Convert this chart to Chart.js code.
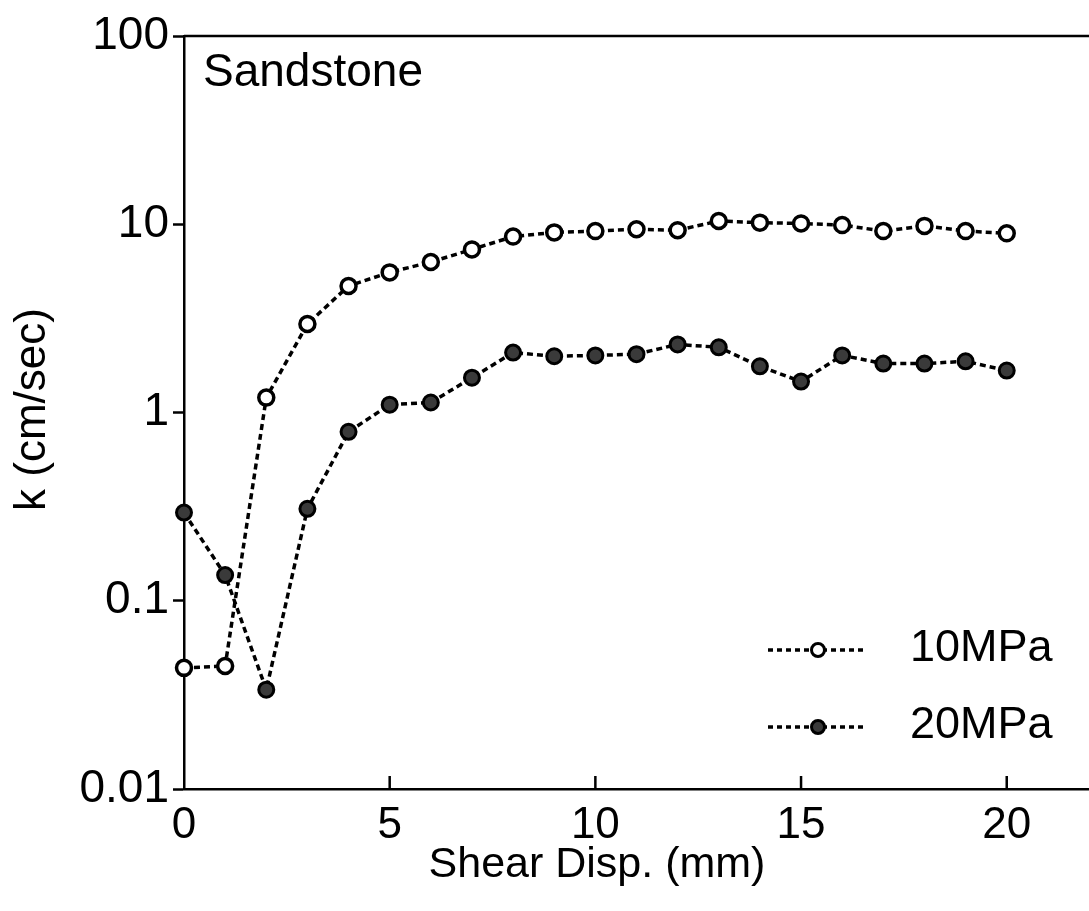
<!DOCTYPE html>
<html>
<head>
<meta charset="utf-8">
<title>Sandstone permeability vs shear displacement</title>
<script src="https://cdn.jsdelivr.net/npm/chart.js@4.4.1/dist/chart.umd.min.js"></script>
<style>
  html, body { margin: 0; padding: 0; background: #ffffff; }
  #wrap { width: 1089px; height: 911px; }
  canvas { display: block; }
</style>
</head>
<body>
<div id="wrap"><canvas id="chart" width="1089" height="911"></canvas></div>
<script>
// Shear displacement (mm)
const shearDisp = [0, 1, 2, 3, 4, 5, 6, 7, 8, 9, 10, 11, 12, 13, 14, 15, 16, 17, 18, 19, 20];

// Permeability k (cm/sec) at 10 MPa normal stress
const k10MPa = [0.044, 0.045, 1.2, 2.95, 4.7, 5.55, 6.3, 7.35, 8.6, 9.05, 9.2, 9.4, 9.3, 10.4, 10.2, 10.1, 9.9, 9.2, 9.8, 9.2, 8.95];

// Permeability k (cm/sec) at 20 MPa normal stress
const k20MPa = [0.294, 0.137, 0.0337, 0.308, 0.79, 1.1, 1.13, 1.53, 2.08, 1.99, 2.01, 2.04, 2.3, 2.22, 1.76, 1.46, 2.01, 1.82, 1.82, 1.87, 1.67];

// Axis ticks
const xTickValues = [0, 5, 10, 15, 20];
const yTickValues = [0.01, 0.1, 1, 10, 100];
const yTickLabels = ['0.01', '0.1', '1', '10', '100'];

const seriesNames = ['10MPa', '20MPa'];

const FONT = '"Liberation Sans", Arial, Helvetica, sans-serif';
const INK = '#000000';
const FILL_DARK = '#3a3a3a';

function toPoints(xs, ys) {
  return xs.map((x, i) => ({ x: x, y: ys[i] }));
}

// Frame, inward x ticks, axis titles, panel label and legend
const decorations = {
  id: 'decorations',
  afterDraw(chart) {
    const ctx = chart.ctx;
    const area = chart.chartArea;
    const xs = chart.scales.x;
    ctx.save();

    // top frame line
    ctx.strokeStyle = INK;
    ctx.lineWidth = 2.5;
    ctx.beginPath();
    ctx.moveTo(area.left, area.top);
    ctx.lineTo(area.right, area.top);
    ctx.stroke();

    // inward tick marks on the x axis
    ctx.lineWidth = 2.5;
    xTickValues.forEach(v => {
      if (v === xs.min) return;
      const px = xs.getPixelForValue(v);
      ctx.beginPath();
      ctx.moveTo(px, area.bottom);
      ctx.lineTo(px, area.bottom - 13);
      ctx.stroke();
    });

    // axis titles
    ctx.fillStyle = INK;
    ctx.font = '43px ' + FONT;
    ctx.textAlign = 'center';
    ctx.textBaseline = 'alphabetic';
    ctx.fillText('Shear Disp. (mm)', 597, 877);

    ctx.save();
    ctx.translate(45, (area.top + area.bottom) / 2 - 3);
    ctx.rotate(-Math.PI / 2);
    ctx.font = '44px ' + FONT;
    ctx.textAlign = 'center';
    ctx.textBaseline = 'alphabetic';
    ctx.fillText('k (cm/sec)', 0, 0);
    ctx.restore();

    // panel label
    ctx.font = '46px ' + FONT;
    ctx.textAlign = 'left';
    ctx.textBaseline = 'alphabetic';
    ctx.fillText('Sandstone', area.left + 19, area.top + 50);

    // legend
    const rows = [650, 727];
    chart.data.datasets.forEach((ds, i) => {
      const y = rows[i];
      const x0 = 768, x1 = 867, xm = 818;
      ctx.strokeStyle = INK;
      ctx.lineWidth = 3.5;
      ctx.setLineDash([5, 4]);
      ctx.beginPath();
      ctx.moveTo(x0, y);
      ctx.lineTo(x1, y);
      ctx.stroke();
      ctx.setLineDash([]);
      ctx.beginPath();
      ctx.arc(xm, y, 6.5, 0, Math.PI * 2);
      ctx.fillStyle = ds.pointBackgroundColor;
      ctx.fill();
      ctx.lineWidth = 3;
      ctx.stroke();
      ctx.fillStyle = INK;
      ctx.font = '45px ' + FONT;
      ctx.textAlign = 'left';
      ctx.textBaseline = 'middle';
      ctx.fillText(ds.label, 910, y - 1);
    });

    ctx.restore();
  }
};

new Chart(document.getElementById('chart'), {
  type: 'line',
  data: {
    datasets: [
      {
        label: seriesNames[0],
        data: toPoints(shearDisp, k10MPa),
        borderColor: INK,
        borderWidth: 3.5,
        borderDash: [6, 4],
        pointRadius: 7.5,
        pointBorderWidth: 3.5,
        pointBorderColor: INK,
        pointBackgroundColor: '#ffffff',
        tension: 0,
        clip: false,
        order: 1
      },
      {
        label: seriesNames[1],
        data: toPoints(shearDisp, k20MPa),
        borderColor: INK,
        borderWidth: 3.5,
        borderDash: [6, 4],
        pointRadius: 7.5,
        pointBorderWidth: 3,
        pointBorderColor: INK,
        pointBackgroundColor: FILL_DARK,
        tension: 0,
        clip: false,
        order: 2
      }
    ]
  },
  options: {
    responsive: false,
    animation: false,
    events: [],
    layout: { autoPadding: false, padding: { top: 36, left: 0, right: 0, bottom: 0 } },
    plugins: {
      legend: { display: false },
      tooltip: { enabled: false },
      title: { display: false }
    },
    scales: {
      x: {
        type: 'linear',
        position: 'bottom',
        min: 0,
        max: 22,
        afterBuildTicks(scale) {
          scale.ticks = xTickValues.map(v => ({ value: v }));
        },
        afterFit(scale) {
          scale.height = 122;
          scale.paddingLeft = 0;
          scale.paddingRight = 0;
        },
        grid: { display: false, drawTicks: false },
        border: { display: true, color: INK, width: 2.5 },
        ticks: {
          color: INK,
          font: { family: FONT, size: 44 },
          padding: 10,
          maxRotation: 0,
          autoSkip: false,
          callback: (v) => String(v)
        },
        title: { display: false }
      },
      y: {
        type: 'logarithmic',
        position: 'left',
        min: 0.01,
        max: 100,
        afterBuildTicks(scale) {
          scale.ticks = yTickValues.map(v => ({ value: v, major: true }));
        },
        afterFit(scale) {
          scale.width = 184;
          scale.paddingTop = 0;
          scale.paddingBottom = 0;
        },
        grid: {
          display: true,
          drawOnChartArea: false,
          drawTicks: true,
          tickLength: 11,
          tickWidth: 2.5,
          color: INK
        },
        border: { display: true, color: INK, width: 2.5 },
        ticks: {
          color: INK,
          font: { family: FONT, size: 46 },
          padding: 4,
          autoSkip: false,
          callback: (v, i) => yTickLabels[i]
        },
        title: { display: false }
      }
    }
  },
  plugins: [decorations]
});
</script>
</body>
</html>
